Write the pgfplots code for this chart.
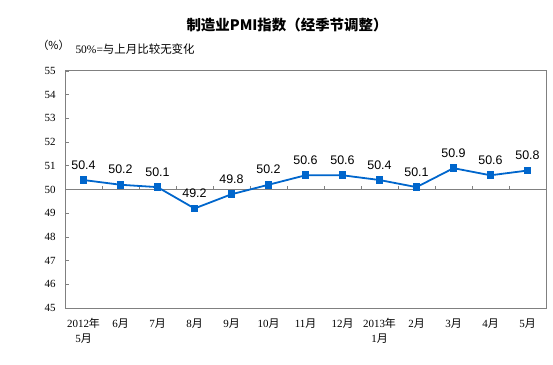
\documentclass[border=0pt]{standalone}
\usepackage{pgfplots}
\pgfplotsset{compat=1.18}
\usepackage{fontspec}
\setmainfont{Liberation Serif}
\newfontfamily\cjk{Noto Sans CJK SC}
\newfontfamily\arial{Liberation Sans}
\definecolor{pmiblue}{RGB}{0,102,204}
\definecolor{axgray}{RGB}{128,128,128}
\newcommand{\yue}{{\cjk 月}}
\newcommand{\nian}{{\cjk 年}}
\begin{document}
\begin{tikzpicture}[x=1bp,y=1bp]
\path[use as bounding box] (0,0) rectangle (553,364);
\node[font=\cjk\fontsize{14.5}{16}\selectfont\bfseries] at (287,339) {制造业PMI指数（经季节调整）};
\node[font=\cjk\fontsize{11}{13}\selectfont, anchor=west] at (34,319) {（\%）};
\node[font=\fontsize{11.5}{13}\selectfont, anchor=west] at (72,315) {50\%={\cjk 与上月比较无变化}};
\begin{axis}[
  at={(65bp,56bp)}, anchor=south west,
  scale only axis, width=481bp, height=237bp,
  xmin=-0.5, xmax=12.5, ymin=45, ymax=55,
  ytick={45,46,...,55},
  xtick={0,...,12},
  xticklabels={{2012\nian\\5\yue},6\yue,7\yue,8\yue,9\yue,10\yue,11\yue,12\yue,{2013\nian\\1\yue},2\yue,3\yue,4\yue,5\yue},
  xticklabel style={align=center, font=\fontsize{11}{15}\selectfont, anchor=north, yshift=-7bp},
  yticklabel style={font=\fontsize{11}{13}\selectfont, xshift=-6bp},
  /pgf/number format/assume math mode=true,
  axis line style={axgray, line width=1bp},
  tick align=inside, ytick pos=left,
  major x tick style={draw=none},
  major y tick style={axgray, line width=0.8bp},
  major tick length=3.5bp,
  clip=false,
]
\draw[axgray, line width=1.1bp] (axis cs:-0.5,50) -- (axis cs:12.5,50);
\pgfplotsinvokeforeach{0.5,1.5,...,11.5}{
  \draw[axgray, line width=0.8bp] (axis cs:#1,50) -- ++(0bp,3.5bp);
}
\addplot[pmiblue, line width=1.8bp, mark=square*, mark size=3bp,
  mark options={solid},
  nodes near coords,
  nodes near coords style={font=\arial\fontsize{12.5}{14}\selectfont, text=black, anchor=base, yshift=11bp,
    /pgf/number format/fixed, /pgf/number format/fixed zerofill, /pgf/number format/precision=1},
] coordinates {
(0,50.4) (1,50.2) (2,50.1) (3,49.2) (4,49.8) (5,50.2) (6,50.6) (7,50.6) (8,50.4) (9,50.1) (10,50.9) (11,50.6) (12,50.8)
};
\end{axis}
\end{tikzpicture}
\end{document}
